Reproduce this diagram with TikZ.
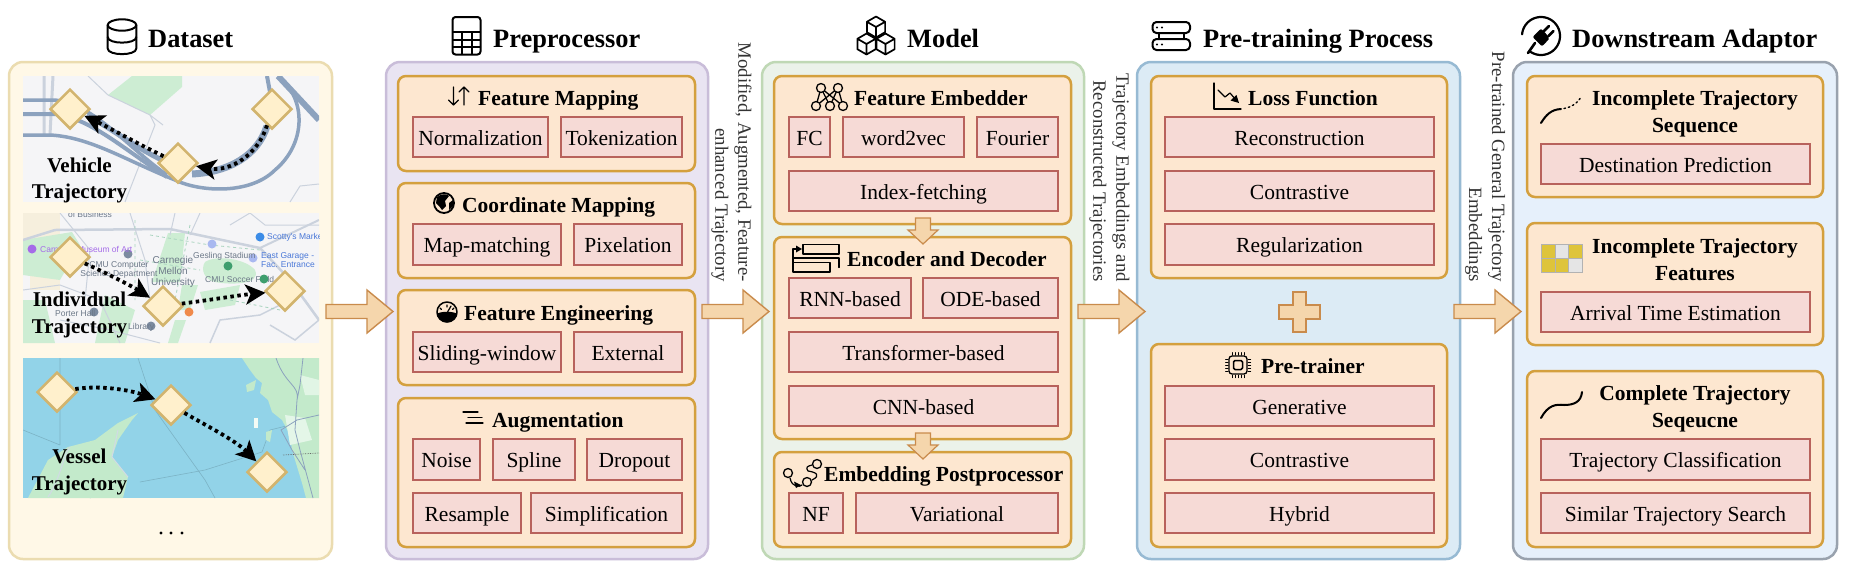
\documentclass[tikz,border=0pt]{standalone}
\usepackage{fontspec}
\setmainfont{Liberation Serif}
\newfontfamily\mapfont{Liberation Sans}
\usetikzlibrary{shapes.geometric,arrows.meta}
\definecolor{itemfill}{HTML}{F6DAD6}
\definecolor{itemline}{HTML}{B8625C}
\definecolor{groupfill}{HTML}{FDE7D0}
\definecolor{groupline}{HTML}{D4A03E}
\definecolor{flowfill}{HTML}{F5D6AC}
\definecolor{flowline}{HTML}{C98B4C}
\definecolor{roadblue}{HTML}{8CA2BE}
\definecolor{roadgrey}{HTML}{CBD2DD}
\definecolor{mapgreen}{HTML}{CDEDD3}
\definecolor{mapbg}{HTML}{F5F5F7}
\definecolor{sea}{HTML}{92D3E8}
\definecolor{land}{HTML}{C3EACB}
\definecolor{seqtext}{HTML}{6C7888}
\definecolor{pinblue}{HTML}{3C8CE7}
\definecolor{parkblue}{HTML}{A9B8F0}
\definecolor{pingrey}{HTML}{7C8BA0}
\definecolor{pingreen}{HTML}{3E9E6E}
\definecolor{pinorange}{HTML}{F08A4B}
\definecolor{pinpurple}{HTML}{A56BE8}
\definecolor{linkblue}{HTML}{4A78D8}
\definecolor{tan}{HTML}{F6EFDD}
\definecolor{gridyellow}{HTML}{DEC43A}
\definecolor{stopfill}{HTML}{FFF0CC}
\definecolor{stopline}{HTML}{D2B46E}
\definecolor{dataF}{HTML}{FFF8E7}\definecolor{dataL}{HTML}{EBDCB0}
\definecolor{prepF}{HTML}{E9E4F2}\definecolor{prepL}{HTML}{C9BDD9}
\definecolor{modelF}{HTML}{EBF2EA}\definecolor{modelL}{HTML}{BFD8B5}
\definecolor{trainF}{HTML}{DCEBF5}\definecolor{trainL}{HTML}{97BAD3}
\definecolor{downF}{HTML}{E6F0FB}\definecolor{downL}{HTML}{99A2AE}
\tikzset{
  x=1pt,y=-1pt,
  panel/.style={draw=#1,line width=2.5pt,rounded corners=14pt,inner sep=0pt},
  groupbox/.style={draw=groupline,fill=groupfill,line width=2.5pt,rounded corners=8pt,inner sep=0pt},
  itemrect/.style={draw=itemline,fill=itemfill,line width=1.4pt,inner sep=0pt,text height=18pt,text depth=1.5pt,font=\fontsize{21.5}{24}\selectfont},
  headtext/.style={anchor=base west,inner sep=0pt,font=\fontsize{21.5}{24}\selectfont\bfseries},
  headmid/.style={anchor=base,inner sep=0pt,font=\fontsize{21.5}{24}\selectfont\bfseries},
  titletext/.style={anchor=base west,inner sep=0pt,font=\fontsize{26.4}{30}\selectfont\bfseries},
  flowtext/.style={rotate=-90,anchor=east,align=right,inner sep=0pt,text=black!80,font=\fontsize{18.8}{23}\selectfont},
  flowshape/.style={draw=flowline,fill=flowfill,line width=1.4pt,line join=miter},
  stopnode/.style={shape=diamond,draw=stopline,fill=stopfill,line width=2.5pt,inner sep=0pt,minimum width=40pt,minimum height=40pt},
  traj/.style={line width=3.8pt,dash pattern=on 3.5pt off 3.5pt,-{Stealth[length=20pt,width=20pt,inset=5pt]}},
  road/.style={draw=roadblue,line width=#1},
  road/.default=4pt,
  street/.style={draw=roadgrey,line width=#1},
  street/.default=1pt,
  maplabel/.style={inner sep=0pt,text=seqtext,font=\mapfont\fontsize{8.5}{9.5}\selectfont,align=center},
  maptitle/.style={anchor=base,inner sep=0pt,font=\fontsize{21}{24}\selectfont\bfseries},
  icon/.style={draw=black,line width=#1,line cap=round,line join=round},
  icon/.default=1.5pt,
}
\newcommand{\region}[7]{\node[panel=#6,fill=#7,minimum width={#4-#2},minimum height={#5-#3}] (#1) at ({(#2+#4)/2},{(#3+#5)/2}) {};}
\newcommand{\grp}[5]{\node[groupbox,minimum width={#4-#2},minimum height={#5-#3}] (#1) at ({(#2+#4)/2},{(#3+#5)/2}) {};}
\newcommand{\itm}[6]{\node[itemrect,minimum width={#4-#2},minimum height={#5-#3}] (#1) at ({(#2+#4)/2},{(#3+#5)/2}) {#6};}
\newcommand{\cubeat}[2]{\begin{scope}[shift={(#1,#2)}]\draw[icon=1.7pt] (0,-10.5)--(9.1,-5.2)--(9.1,5.2)--(0,10.5)--(-9.1,5.2)--(-9.1,-5.2)--cycle (-9.1,-5.2)--(0,0)--(9.1,-5.2) (0,0)--(0,10.5);\end{scope}}
% block arrow pointing right: tail x
\newcommand{\rightflow}[1]{\draw[flowshape,shift={(#1,311.5)}] (0,-7)--(41,-7)--(41,-21.5)--(67,0)--(41,21.5)--(41,7)--(0,7)--cycle;}
% block arrow pointing down: top y
\newcommand{\downflow}[1]{\draw[flowshape,line width=1.2pt,shift={(923,#1)}] (-7.5,0)--(7.5,0)--(7.5,12)--(15,12)--(0,26)--(-15,12)--(-7.5,12)--cycle;}
\begin{document}
\begin{tikzpicture}
\useasboundingbox (0,0) rectangle (1850,574);
\fill[white] (0,0) rectangle (1850,574);

% ---------- panels
\region{dataset}{9}{62}{332}{559}{dataL}{dataF}
\region{prep}{386}{62}{708}{559}{prepL}{prepF}
\region{model}{762}{62}{1084}{559}{modelL}{modelF}
\region{train}{1137}{62}{1460}{559}{trainL}{trainF}
\region{down}{1513}{62}{1837}{559}{downL}{downF}

% ---------- titles
\node[titletext] (t1) at (148,47) {Dataset};
\node[titletext] (t2) at (493,47) {Preprocessor};
\node[titletext] (t3) at (907,47) {Model};
\node[titletext] (t4) at (1203,47) {Pre-training Process};
\node[titletext] (t5) at (1572,47) {Downstream Adaptor};

% dataset icon
\draw[icon=2pt] (122,25) ellipse [x radius=14.3,y radius=5.7];
\draw[icon=2pt] (107.7,25)--(107.7,48.5) .. controls (107.7,56) and (136.3,56) .. (136.3,48.5)--(136.3,25);
\draw[icon=2pt] (107.7,37) .. controls (107.7,44.5) and (136.3,44.5) .. (136.3,37);
% calculator icon
\draw[icon=2pt,rounded corners=3pt] (452.5,17) rectangle (480.5,54.5);
\draw[icon=2pt] (453,32)--(480,32) (453,39.5)--(480,39.5) (453,47)--(480,47) (461.5,32)--(461.5,54) (471.5,32)--(471.5,54);
% cubes icon
\cubeat{876}{27}\cubeat{866.5}{44}\cubeat{885.5}{44}
% server icon
\draw[icon=2pt,rounded corners=4pt] (1152.5,22) rectangle (1190,33);
\draw[icon=2pt,rounded corners=4pt] (1152.5,39) rectangle (1190,50);
\draw[icon=2pt] (1159,33)--(1159,39) (1184,33)--(1184,39);
\fill (1157,27.5) circle (1.1) (1162,27.5) circle (1.1) (1157,44.5) circle (1.1) (1162,44.5) circle (1.1);
% plug icon
\draw[icon=2.2pt] plot[domain=185:485,samples=50] ({1541+19*cos(\x)},{36+19*sin(\x)});
\fill[rounded corners=2pt] (1532.5,37)--(1541,28.5)--(1550,38)--(1542,46.5)--cycle;
\draw[icon=2.6pt] (1544,31)--(1549,26) (1548.5,36)--(1553.5,31) (1535,43)--(1528,53);

% ---------- map 1: vehicle
\begin{scope}
\clip (23,76) rectangle (319,202);
\fill[mapbg] (23,76) rectangle (319,202);
\fill[mapgreen] (108,95)--(132,76)--(182,76)--(182,87)--(150,115)--cycle;
\draw[street] (88,76)--(108,95)--(150,115)--(155,125)--(125,202);
\draw[street] (150,115)--(163,125);
\draw[street=3pt] (44,76)--(44,135) (53,76)--(50,135);
\draw[street] (290,202)--(300,186)--(319,184);
\draw[road=3.5pt] (23,100)--(55,100) .. controls (95,105) and (125,145) .. (167,175);
\draw[road=4pt] (23,114)--(55,114) .. controls (90,118) and (125,150) .. (167,177);
\draw[road=3.5pt] (23,135)--(50,135) .. controls (90,137) and (125,160) .. (175,180) .. controls (200,192) and (250,195) .. (275,170) .. controls (305,145) and (308,100) .. (278,76);
\draw[road=6pt] (278,76)--(319,120);
\draw[road=4pt] (267,76)--(270,92);
\draw[road=7pt] (267,126) .. controls (258,155) and (230,172) .. (192,174);
\draw[road=5pt] (87,115) .. controls (110,128) and (140,150) .. (162,160);
\end{scope}
\node[stopnode] (v1) at (70,109) {};
\node[stopnode] (v2) at (178,163) {};
\node[stopnode] (v3) at (272,109) {};
\draw[traj] (v3) .. controls (258,155) and (230,172) .. (v2);
\draw[traj] (v2) .. controls (140,145) and (110,128) .. (v1);
\node[maptitle] (lab1a) at (79.5,172) {Vehicle};
\node[maptitle] (lab1b) at (79.5,198) {Trajectory};

% ---------- map 2: individual
\begin{scope}
\clip (23,213) rectangle (319,343);
\fill[mapbg] (23,213) rectangle (319,343);
\fill[tan] (23,213) rectangle (60,240);
\fill[tan] (30,270) rectangle (60,290);
\fill[mapgreen] (23,240)--(72,232)--(80,245)--(60,280)--(23,275)--cycle;
\fill[mapgreen] (168,233)--(185,233)--(180,282)--(152,282)--cycle;
\fill[mapgreen] (205,262) .. controls (215,255) and (245,258) .. (255,270) .. controls (262,285) and (230,285) .. (215,282) .. controls (205,280) and (200,270) .. (205,262);
\fill[mapgreen] (182,285)--(198,285)--(190,310)--(178,310)--cycle;
\fill[mapgreen] (175,320)--(186,320)--(178,343)--(168,343)--cycle;
\fill[mapgreen] (200,292)--(240,285)--(235,305)--(205,310)--cycle;
\fill[mapgreen] (23,300)--(45,300)--(55,343)--(23,343)--cycle;
\fill[mapgreen] (105,295)--(135,310)--(125,343)--(95,343)--cycle;
\draw[street=2.5pt] (23,240)--(55,230)--(170,229)--(260,248)--(290,280)--(319,320);
\draw[street=2pt] (260,248)--(319,220);
\draw[street] (60,213)--(90,250)--(85,300) (130,213)--(145,260)--(150,300) (175,213)--(170,235);
\draw[street] (200,213)--(190,235) (230,225)--(250,213) (250,213)--(265,225)--(319,225);
\draw[street=1.5pt] (210,343)--(220,320)--(260,315)--(300,295) (270,325)--(295,340)--(319,320)--(305,300);
\draw[street] (23,290)--(60,285)--(100,300)--(120,343) (60,320)--(110,330)--(160,343);
\draw[draw=pingreen!45,line width=.8pt,dashed] (135,220)--(135,300) (150,235)--(210,245)--(260,250) (190,225)--(175,300) (140,260)--(200,270) (230,300)--(280,310);
\fill[pinblue] (260,237) circle (4.5);
\node[maplabel,text=linkblue,anchor=west] (m1) at (267,237) {Scotty's Market};
\fill[parkblue] (212,244) circle (4.5);
\fill[parkblue] (253,258) circle (4.5);
\node[maplabel,anchor=west] (m2) at (193,256) {Gesling Stadium};
\node[maplabel,text=linkblue,align=left,anchor=west] (m3) at (261,260) {East Garage -\\Fac. Entrance};
\node[maplabel,anchor=west] (m4) at (205,279) {CMU Soccer Field};
\fill[pingreen] (228,266) circle (4.5);
\fill[pingreen] (264,279) circle (4.5);
\fill[pinorange] (189,312) circle (4.5);
\fill[pingrey] (128,254) circle (4.5);
\fill[pingrey] (94,312) circle (4.5);
\fill[pingrey] (151,326) circle (4.5);
\fill[pinpurple] (32,249) circle (4.5);
\node[maplabel,text=pinpurple,anchor=west] (m5) at (40,250) {Carnegie Museum of Art};
\node[maplabel,anchor=base] (m6) at (90,217) {of Business};
\node[maplabel] (m7) at (119,270) {CMU Computer\\Science Department};
\node[maplabel,anchor=west] (m8) at (55,313) {Porter Hall};
\node[maplabel,anchor=west] (m9) at (128,327) {Library};
\node[maplabel,font=\mapfont\fontsize{10}{11}\selectfont] (m10) at (173,272) {Carnegie\\Mellon\\University};
\end{scope}
\node[stopnode] (i1) at (70,257) {};
\node[stopnode] (i2) at (163,306) {};
\node[stopnode] (i3) at (285,291) {};
\draw[traj] (i1) .. controls (100,270) and (130,285) .. (i2);
\draw[traj] (i2) .. controls (210,300) and (240,295) .. (i3);
\node[maptitle] (lab2a) at (79.5,306) {Individual};
\node[maptitle] (lab2b) at (79.5,333) {Trajectory};

% ---------- map 3: vessel
\begin{scope}
\clip (23,358) rectangle (319,498);
\fill[sea] (23,358) rectangle (319,498);
\draw[draw=sea!85!black,line width=.6pt] (60,358)--(60,445) (23,430)--(60,445) (138,358)--(155,410)--(205,480)--(215,498) (140,482)--(205,470)--(262,452)--(270,430)--(290,425) (90,498)--(120,480);
\fill[land] (28,498)--(48,460)--(68,447)--(95,440)--(118,423)--(138,413)--(132,420)--(118,440)--(112,457)--(128,477)--(123,498)--cycle;
\fill[land] (242,358)--(319,358)--(319,498)--(306,498)--(302,483)--(292,450)--(290,435)--(282,420)--(272,412)--(268,400)--(260,393)--(262,383)--(256,378)--(250,370)--cycle;
\fill[land] (246,385)--(256,380)--(254,390)--(247,392)--cycle;
\fill[land] (266,432)--(272,430)--(270,442)--(266,440)--cycle;
\fill[white!80!land] (254,418) rectangle (258,428);
\fill[white!55!land] (285,415)--(305,418)--(312,440)--(290,445)--cycle;
\fill[white!50!land] (300,375)--(319,380)--(319,395)--(305,395)--cycle;
\draw[draw=white!60!roadblue,line width=1pt] (48,497) .. controls (60,480) and (65,450) .. (70,447) (118,430)--(112,457)--(128,477);
\draw[draw=roadblue,line width=.8pt] (276,358) .. controls (285,385) and (300,385) .. (297,400)--(295,430)--(300,450)--(313,498) (319,415)--(297,420)--(281,430)--(292,450)--(305,470) (303,358)--(300,385)--(297,400);
\draw[draw=black!60,line width=.7pt,densely dotted] (283,455)--(319,453);
\end{scope}
\node[stopnode] (s1) at (57,392) {};
\node[stopnode] (s2) at (171,405) {};
\node[stopnode] (s3) at (267,472) {};
\draw[traj] (s1) .. controls (100,385) and (130,390) .. (s2);
\draw[traj] (s2) .. controls (205,425) and (235,440) .. (s3);
\node[maptitle] (lab3a) at (79.5,463) {Vessel};
\node[maptitle] (lab3b) at (79.5,490) {Trajectory};

\fill (161,533) circle (1.7) (171,533) circle (1.7) (182,533) circle (1.7);

% ---------- preprocessor
\grp{g11}{398}{76}{695}{171}
\grp{g12}{398}{183}{695}{278}
\grp{g13}{398}{290}{695}{385}
\grp{g14}{398}{398}{695}{547}
\node[headtext] (h11) at (478,105) {Feature Mapping};
\node[headtext] (h12) at (462,212) {Coordinate Mapping};
\node[headtext] (h13) at (464,320) {Feature Engineering};
\node[headtext] (h14) at (492,427) {Augmentation};
\itm{a1}{413}{117}{548}{157}{Normalization}
\itm{a2}{561}{117}{682}{157}{Tokenization}
\itm{a3}{413}{224}{561}{265}{Map-matching}
\itm{a4}{574}{224}{682}{265}{Pixelation}
\itm{a5}{413}{332}{561}{372}{Sliding-window}
\itm{a6}{574}{332}{682}{372}{External}
\itm{a7}{413}{439}{480}{480}{Noise}
\itm{a8}{493}{439}{575}{480}{Spline}
\itm{a9}{587}{439}{682}{480}{Dropout}
\itm{a10}{413}{493}{521}{533}{Resample}
\itm{a11}{531}{493}{682}{533}{Simplification}
% arrows icon
\draw[icon=1.1pt] (453.5,87)--(453.5,105) (448.5,100)--(453.5,105)--(458.5,100) (464,105)--(464,87) (459,92)--(464,87)--(469,92);
% globe icon
\draw[icon=1.8pt] (444,203) circle (10);
\fill (437,197) .. controls (442,193) and (447,194) .. (449,196) -- (445,201) -- (446,206) -- (442,210) -- (439,206) -- (436,203) -- cycle;
\fill (449,203) -- (453,200) -- (453,206) -- (449,210) -- cycle;
% gauge icon
\begin{scope}
\clip (447,312) circle (10.5);
\fill (436,314) .. controls (442,311) and (452,311) .. (458,314) -- (458,324) -- (436,324) -- cycle;
\end{scope}
\draw[icon=1.5pt] (447,312) circle (10);
\draw[icon=1.2pt] (447,305)--(447,307) (440,308)--(441.5,309.5) (454,308)--(452.5,309.5) (447,313)--(451,306);
% lines icon
\draw[icon=1.3pt] (463,412)--(478,412) (468,417.5)--(482,417.5) (466,423)--(483,423);
% ---------- model
\grp{g21}{774}{76}{1071}{224}
\grp{g22}{774}{237}{1071}{439}
\grp{g23}{774}{452}{1071}{547}
\node[headtext] (h21) at (854,105) {Feature Embedder};
\node[headtext] (h22) at (847,266) {Encoder and Decoder};
\node[headtext] (h23) at (824,481) {Embedding Postprocessor};
\itm{b1}{789}{117}{830}{157}{FC}
\itm{b2}{843}{117}{964}{157}{word2vec}
\itm{b3}{977}{117}{1058}{157}{Fourier}
\itm{b4}{789}{171}{1058}{211}{Index-fetching}
\itm{b5}{789}{278}{911}{318}{RNN-based}
\itm{b6}{923}{278}{1058}{318}{ODE-based}
\itm{b7}{789}{332}{1058}{372}{Transformer-based}
\itm{b8}{789}{386}{1058}{426}{CNN-based}
\itm{b9}{789}{493}{843}{533}{NF}
\itm{b10}{856}{493}{1058}{533}{Variational}
\downflow{218}
\downflow{433}
% network icon
\draw[icon=1.3pt] (821,88)--(816,106) (821,88)--(830,106) (821,88)--(843,106) (838,88)--(816,106) (838,88)--(830,106) (838,88)--(843,106);
\foreach \p/\q in {821/88,838/88,816/106,830/106,843/106}{\draw[icon=1.3pt,fill=groupfill] (\p,\q) circle (4.5);}
% encoder icon
\draw[icon=1.3pt,fill=groupfill] (803,244.5) rectangle (839,254);
\draw[icon=1.3pt] (793,258)--(839,258)--(839,267.5) (793,258)--(793,262.5);
\draw[icon=1.3pt,fill=groupfill] (793,262.5) rectangle (830,272);
\draw[icon=1.3pt] (793,258)--(793,249)--(797,249);
\fill (802,249)--(796,245.5)--(796,252.5)--cycle;
% postprocess icon
\draw[icon=1.3pt] (788,473) circle (4.5) (807,482) circle (4.5) (817,464) circle (4.5);
\draw[icon=1.2pt] (790,478) .. controls (792,488) and (800,487) .. (802,485);
\draw[icon=1.2pt] (812,480) .. controls (822,475) and (815,472) .. (808,471) .. controls (805,467) and (808,466) .. (812,465);
\fill (801,485)--(794,481.5)--(796,488)--cycle;
% ---------- pre-training
\grp{g31}{1151}{76}{1447}{278}
\grp{g32}{1151}{344}{1447}{547}
\node[headtext] (h31) at (1248,105) {Loss Function};
\node[headtext] (h32) at (1261,373) {Pre-trainer};
\itm{c1}{1165}{117}{1434}{157}{Reconstruction}
\itm{c2}{1165}{171}{1434}{211}{Contrastive}
\itm{c3}{1165}{224}{1434}{265}{Regularization}
\itm{c4}{1165}{386}{1434}{426}{Generative}
\itm{c5}{1165}{439}{1434}{480}{Contrastive}
\itm{c6}{1165}{493}{1434}{533}{Hybrid}
\draw[flowshape] (1293,292)--(1306,292)--(1306,305)--(1320,305)--(1320,319)--(1306,319)--(1306,332)--(1293,332)--(1293,319)--(1279,319)--(1279,305)--(1293,305)--cycle;
% loss icon
\draw[icon=1.2pt] (1214,83)--(1214,109)--(1241,109);
\draw[icon=1.2pt] (1218,90)--(1225,97)--(1230,93)--(1236,100);
\fill (1239,103)--(1230.5,100.5)--(1236.5,95)--cycle;
% chip icon
\draw[icon=1.3pt,rounded corners=3pt] (1229,356) rectangle (1247,374);
\draw[icon=1.5pt,rounded corners=1.5pt] (1233.5,360.5) rectangle (1242.5,369.5);
\foreach \d in {-6,-3,0,3,6}{\draw[icon=1pt] ({1238+\d},352.5)--({1238+\d},355) ({1238+\d},375)--({1238+\d},377.5) (1225.5,{365+\d})--(1228,{365+\d}) (1248,{365+\d})--(1250.5,{365+\d});}
% ---------- downstream
\grp{g41}{1527}{76}{1823}{197}
\grp{g42}{1527}{223}{1823}{345}
\grp{g43}{1527}{371}{1823}{547}
\node[headmid] (h41a) at (1695,105) {Incomplete Trajectory};
\node[headmid] (h41b) at (1695,132) {Sequence};
\node[headmid] (h42a) at (1695,253) {Incomplete Trajectory};
\node[headmid] (h42b) at (1695,280) {Features};
\node[headmid] (h43a) at (1695,400) {Complete Trajectory};
\node[headmid] (h43b) at (1695,427) {Seqeucne};
\itm{e1}{1541}{144}{1810}{184}{Destination Prediction}
\itm{e2}{1541}{292}{1810}{332}{Arrival Time Estimation}
\itm{e3}{1541}{439}{1810}{480}{Trajectory Classification}
\itm{e4}{1541}{493}{1810}{533}{Similar Trajectory Search}
% incomplete sequence icon
\draw[icon=2pt] (1541,123) .. controls (1546,115) and (1551,109.5) .. (1561,109);
\draw[icon=1.4pt,dash pattern=on 1.5pt off 3pt] (1564,108.5) .. controls (1572,107) and (1578,103) .. (1581,97);
% grid icon
\fill[gridyellow] (1541,244) rectangle (1582,272);
\fill[white!90!black] (1555,244) rectangle (1568.5,258) (1568.5,258) rectangle (1582,272);
\draw[draw=black!30,line width=.8pt] (1541,244) rectangle (1582,272) (1541,258)--(1582,258) (1555,244)--(1555,272) (1568.5,244)--(1568.5,272);
% complete sequence icon
\draw[icon=2pt] (1541,418) .. controls (1548,405) and (1556,404) .. (1564,405) .. controls (1574,405) and (1581,402) .. (1582,392);

% ---------- flow arrows and their texts
\rightflow{326}
\rightflow{702}
\rightflow{1078}
\rightflow{1454}
\node[flowtext] (l2) at (731.5,282) {Modified, Augmented, Feature-\\enhanced Trajectory};
\node[flowtext] (l3) at (1109.5,282) {Trajectory Embeddings and\\Reconstructed Trajectories};
\node[flowtext] (l4) at (1485,282) {Pre-trained General Trajectory\\Embeddings};
\end{tikzpicture}
\end{document}
